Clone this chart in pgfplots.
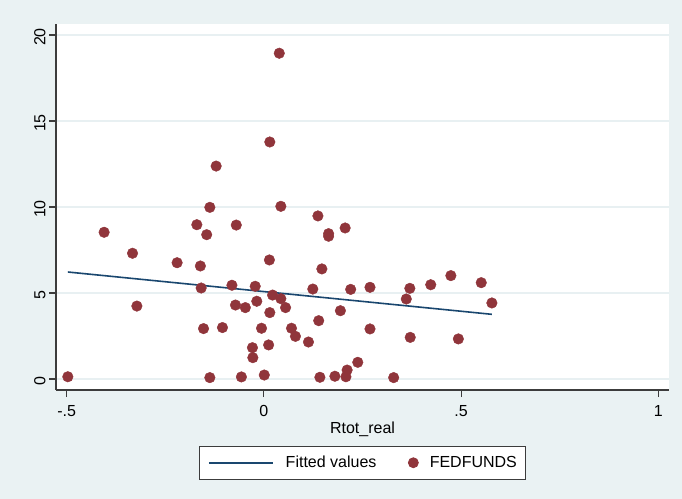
\documentclass[border=0pt]{standalone}
\usepackage{fontspec}
\setmainfont{Liberation Sans}
\usepackage{pgfplots}
\pgfplotsset{compat=1.18}
\definecolor{bgc}{RGB}{234,242,243}
\definecolor{gridc}{RGB}{232,240,242}
\definecolor{smaroon}{RGB}{144,53,59}
\definecolor{snavy}{RGB}{26,71,111}
\definecolor{axc}{RGB}{60,60,60}
\newcommand{\fs}{\fontsize{16bp}{19bp}\selectfont}
\begin{document}
\begin{tikzpicture}
\fill[bgc] (0,0) rectangle (682bp,499bp);
\begin{axis}[
  at={(56bp,109bp)}, anchor=south west,
  scale only axis, width=613bp, height=366bp,
  xmin=-0.527, xmax=1.027, ymin=-0.64, ymax=20.64,
  axis background/.style={fill=white},
  axis lines=left,
  axis line style={-, draw=axc, line width=1.1bp},
  tick align=outside,
  major tick length=7bp,
  tick style={draw=axc, line width=1.1bp},
  xtick={-0.5,0,0.5,1},
  xticklabels={-.5,0,.5,1},
  ytick={0,5,10,15,20},
  yticklabels={0,5,10,15,20},
  ticklabel style={font=\fs},
  xticklabel style={yshift=-5bp},
  yticklabel style={rotate=90, anchor=south, xshift=-2bp},
  ymajorgrids,
  major grid style={draw=gridc, line width=1.6bp},
  xlabel={Rtot\_real},
  xlabel style={font=\fs, at={(axis description cs:0.5,-0.1202)}, anchor=base},
  legend columns=2,
  legend style={at={(axis description cs:0.5,-0.153)}, anchor=north,
    draw=axc, line width=0.8bp, fill=white, font=\fs,
    inner xsep=9bp, inner ysep=4.5bp,
    nodes={inner xsep=0pt, inner ysep=5.3bp},
    /tikz/every even column/.append style={column sep=26.5bp}},
  legend cell align=left,
]
\addplot[snavy, line width=1.6bp, no markers,
  legend image code/.code={\path (0bp,0bp) (76bp,0bp);\draw[snavy, line width=1.6bp] (0bp,0bp) -- (64bp,0bp);}]
  coordinates {(-0.497,6.22) (0.578,3.76)};
\addlegendentry{Fitted values}
\addplot[only marks, mark=*, mark size=5.3bp, draw=smaroon, fill=smaroon,
  legend image code/.code={\path (0bp,0bp) (26bp,0bp);\fill[smaroon] (10bp,0bp) circle (5bp);}]
  coordinates {
(-0.497,0.13) (-0.405,8.53) (-0.333,7.31) (-0.322,4.24) (-0.220,6.76)
(-0.170,8.97) (-0.137,9.98) (-0.145,8.39) (-0.161,6.57) (-0.159,5.29)
(-0.153,2.93) (-0.137,0.08) (-0.105,2.99) (-0.081,5.45) (-0.070,8.95)
(-0.072,4.30) (-0.057,0.12) (-0.047,4.15) (-0.029,1.82) (-0.028,1.24)
(-0.022,5.39) (-0.018,4.52) (-0.006,2.95) (0.001,0.23) (0.012,1.98)
(0.014,6.92) (0.015,3.86) (0.022,4.88) (0.043,10.04) (0.043,4.67)
(0.055,4.15) (0.070,2.95) (0.080,2.48) (0.113,2.15) (0.124,5.23)
(0.137,9.48) (0.139,3.39) (0.142,0.10) (0.147,6.40) (0.164,8.45)
(0.164,8.30) (0.180,0.16) (0.194,3.97) (0.206,8.78) (0.211,0.52)
(0.208,0.13) (0.220,5.21) (0.238,0.97) (0.269,5.33) (0.269,2.91)
(0.329,0.08) (0.361,4.65) (0.370,5.27) (0.371,2.42) (0.423,5.48)
(0.474,6.01) (0.493,2.33) (0.551,5.60) (0.578,4.42) (0.039,18.94)
(0.015,13.78) (-0.121,12.38)
  };
\addlegendentry{FEDFUNDS\hspace{9bp}}
\end{axis}
\end{tikzpicture}
\end{document}
